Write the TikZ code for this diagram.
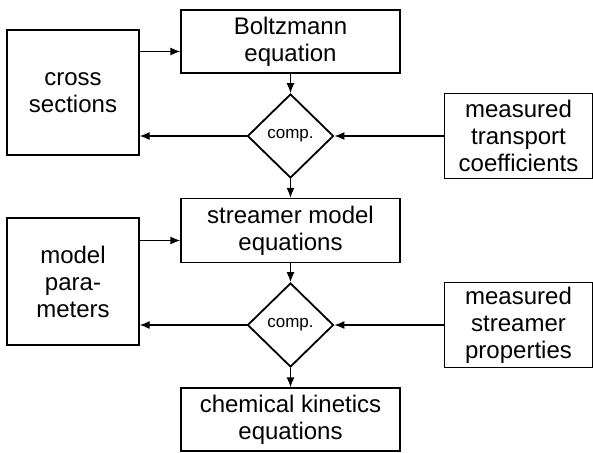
\documentclass[tikz,border=0pt]{standalone}
\usepackage{fontspec}
\setmainfont{Liberation Sans}
\usetikzlibrary{arrows.meta, shapes.geometric, positioning}

\tikzset{
  blk/.style={draw, line width=1.3pt, align=center, inner sep=0pt,
    font=\fontsize{24}{27}\selectfont},
  cmp/.style={draw, diamond, line width=1.8pt, inner sep=0pt,
    minimum width=86pt, minimum height=84pt, font=\fontsize{17}{20}\selectfont}
}

\begin{document}
\begin{tikzpicture}[x=1pt,y=-1pt,->,>={Latex[length=10pt,width=8pt]},line width=1.3pt,node distance=94.5pt]
  \useasboundingbox (0,0) rectangle (593,452);

  \node[blk, minimum width=219pt, minimum height=63pt] (bz) at (290.5,41.5) {Boltzmann\\equation};
  \node[cmp]                                 (d1) [below of=bz] {comp.};
  \node[blk, minimum width=219pt, minimum height=64pt] (sm) [below of=d1] {streamer model\\equations};
  \node[cmp]                                 (d2) [below of=sm] {comp.};
  \node[blk, minimum width=219pt, minimum height=63pt] (ck) [below of=d2] {chemical kinetics\\equations};

  \node[blk, minimum width=132pt, minimum height=125pt] (cs) at (73,92.5) {cross\\sections};
  \node[blk, minimum width=132pt, minimum height=127pt] (mp) at (73,281.5) {model\\para-\\meters};

  \node[blk, minimum width=148pt, minimum height=85pt] (mt) [right of=d1, node distance=228pt] {measured\\transport\\coefficients};
  \node[blk, minimum width=148pt, minimum height=85pt] (ms) [right of=d2, node distance=228pt] {measured\\streamer\\properties};

  \coordinate (bzin) at ([yshift=-10pt]bz.west);
  \coordinate (smin) at ([yshift=-10pt]sm.west);

  \path[->]
    (cs.east |- bzin) edge (bzin)
    (bz) edge (d1)
    (d1) edge (sm)
         edge (d1.west -| cs.east)
    (mt) edge (d1.east)
    (mp.east |- smin) edge (smin)
    (sm) edge (d2)
    (d2) edge (ck)
         edge (d2.west -| mp.east)
    (ms) edge (d2.east);
\end{tikzpicture}
\end{document}
